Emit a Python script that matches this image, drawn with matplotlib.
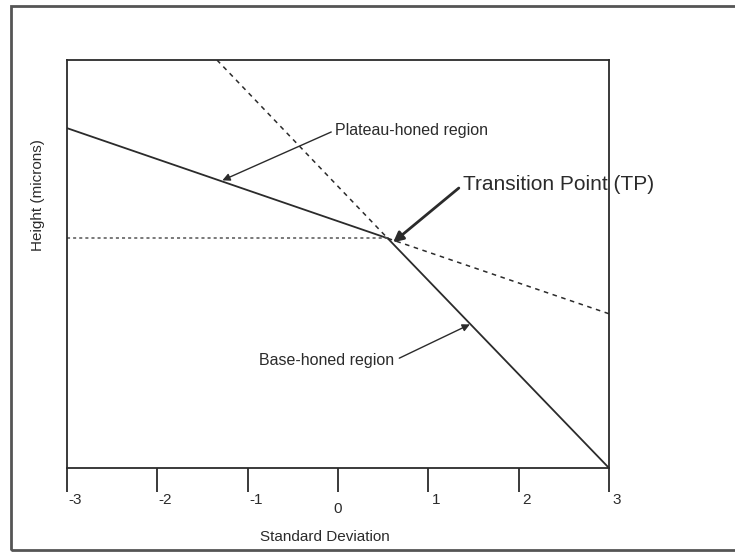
import matplotlib
matplotlib.use("Agg")
import matplotlib.pyplot as plt
import matplotlib.transforms as mtransforms
from matplotlib.patches import Rectangle

# ---- data ----
x_ticks = [-3, -2, -1, 0, 1, 2, 3]
x_ticklabels = ["-3", "-2", "-1", "0", "1", "2", "3"]
x_min, x_max = -3, 3
y_min, y_max = 0.0, 1.0

tp_x, tp_y = 0.55, 0.563           # transition point
plateau_start = (-3.0, 0.833)      # plateau-honed line start
base_end = (3.0, 0.0)              # base-honed line end
plateau_ext_end = (3.0, 0.378)     # plateau line extended (dashed)
base_ext_start = (-1.34, 1.0)      # base line extended (dashed)
hline_start_x = -3.0

plateau_arrow_pt = (-1.28, 0.705)
base_arrow_pt = (1.46, 0.352)

labels = {
    "plateau": "Plateau-honed region",
    "base": "Base-honed region",
    "tp": "Transition Point (TP)",
    "xlabel": "Standard Deviation",
    "ylabel": "Height (microns)",
}

plt.rcParams['font.family'] = ['Liberation Sans', 'DejaVu Sans']
ink = '#2b2b2b'

fig = plt.figure(figsize=(7.35, 5.56), dpi=100)
W, H = 735, 556
ax = fig.add_axes([67 / W, 1 - 468 / H, (609 - 67) / W, (468 - 60) / H])

# outer border
fig.patches.append(Rectangle((11 / W, 1 - 550 / H), 1.2, (550 - 6) / H,
                             transform=fig.transFigure, fill=False,
                             edgecolor='#555555', lw=2))

# solid lines
ax.plot([plateau_start[0], tp_x], [plateau_start[1], tp_y], color=ink, lw=1.3)
ax.plot([tp_x, base_end[0]], [tp_y, base_end[1]], color=ink, lw=1.3)
# dashed extensions
ax.plot([tp_x, plateau_ext_end[0]], [tp_y, plateau_ext_end[1]], color=ink,
        lw=1.1, linestyle=(0, (3, 3)))
ax.plot([base_ext_start[0], tp_x], [base_ext_start[1], tp_y], color=ink,
        lw=1.1, linestyle=(0, (3, 3)))
ax.plot([hline_start_x, tp_x], [tp_y, tp_y], color='#555555',
        lw=1.1, linestyle=(0, (2, 2)))

ax.set_xlim(x_min, x_max)
ax.set_ylim(y_min, y_max)
ax.set_xticks(x_ticks)
ax.set_xticklabels(x_ticklabels)
ax.set_yticks([])
ax.tick_params(axis='x', direction='out', length=17, width=1.3, color=ink,
               labelsize=11, labelcolor=ink, pad=1)
for s in ax.spines.values():
    s.set_color(ink)
    s.set_linewidth(1.3)

for lab in ax.get_xticklabels():
    dx, dy = 8, 0
    if lab.get_text() == "0":
        dx, dy = 0, -9
    lab.set_transform(lab.get_transform() +
                      mtransforms.ScaledTranslation(dx / 100, dy / 100, fig.dpi_scale_trans))

fig.text(325 / W, 1 - 537 / H, labels["xlabel"], fontsize=11, color=ink,
         ha='center', va='center')
fig.text(38 / W, 1 - 195 / H, labels["ylabel"], rotation=90, fontsize=11,
         color=ink, ha='center', va='center')

# annotations
ax.annotate(labels["plateau"], xy=plateau_arrow_pt, xytext=(-0.03, 0.828),
            fontsize=11.5, color=ink, ha='left', va='center',
            arrowprops=dict(arrowstyle='-|>', color=ink, lw=1.0,
                            mutation_scale=11, shrinkA=1, shrinkB=0,
                            relpos=(0, 0.5)))
ax.annotate(labels["base"], xy=base_arrow_pt, xytext=(0.62, 0.263),
            fontsize=11.5, color=ink, ha='right', va='center',
            arrowprops=dict(arrowstyle='-|>', color=ink, lw=1.0,
                            mutation_scale=11, shrinkA=2, shrinkB=0,
                            relpos=(1, 0.5)))
ax.annotate(labels["tp"], xy=(tp_x + 0.06, tp_y - 0.01), xytext=(1.38, 0.694),
            fontsize=15, color=ink, ha='left', va='center',
            annotation_clip=False,
            arrowprops=dict(arrowstyle='-|>', color=ink, lw=2.0,
                            mutation_scale=15, shrinkA=1, shrinkB=0,
                            relpos=(0, 0.5)))

fig.savefig("out.png", dpi=100)
